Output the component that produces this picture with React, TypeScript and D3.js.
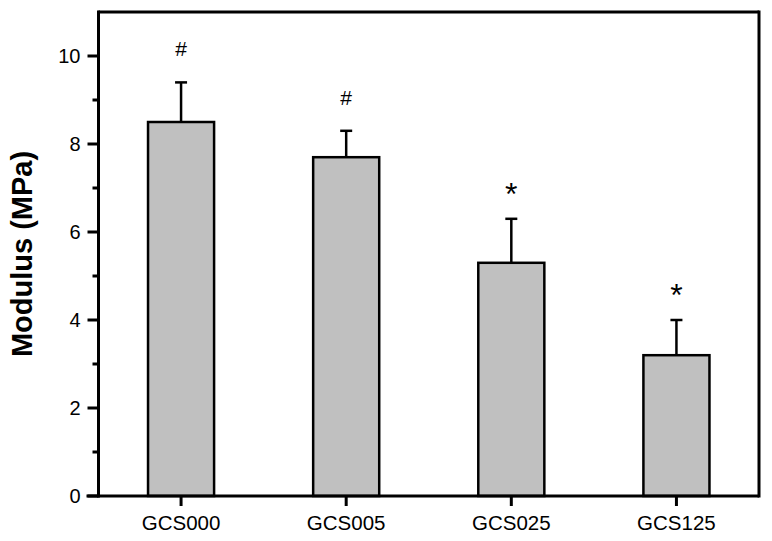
import React from "react";
import * as d3 from "d3";

const categories = ["GCS000", "GCS005", "GCS025", "GCS125"];
const values = [8.5, 7.7, 5.3, 3.2];
const errors = [0.9, 0.6, 1.0, 0.8];
const marks = ["#", "#", "*", "*"];
const yTicks = [0, 2, 4, 6, 8, 10];
const yMinorTicks = [1, 3, 5, 7, 9];

const W = 772;
const H = 541;
const L = 98.5;
const R = 759;
const T = 12;
const B = 496;

export default function App() {
  const x = d3.scaleBand<string>().domain(categories).range([L, R]).padding(0);
  const y = d3.scaleLinear().domain([0, 11]).range([B, T]);
  const barW = x.bandwidth() * 0.4;
  const font = "'Liberation Sans', Arial, sans-serif";

  return (
    <svg
      width={W}
      height={H}
      style={{ position: "absolute", left: 0, top: 0, background: "#fff" }}
      fontFamily={font}
    >
      {categories.map((c, i) => {
        const cx = x(c)! + x.bandwidth() / 2;
        const top = y(values[i]);
        const errTop = y(values[i] + errors[i]);
        const isHash = marks[i] === "#";
        return (
          <g key={c}>
            <line x1={cx} x2={cx} y1={top} y2={errTop} stroke="#000" strokeWidth={2.5} />
            <line x1={cx - 6} x2={cx + 6} y1={errTop} y2={errTop} stroke="#000" strokeWidth={2.5} />
            <rect
              x={cx - barW / 2}
              y={top}
              width={barW}
              height={B - top}
              fill="#c0c0c0"
              stroke="#000"
              strokeWidth={2.5}
            />
            <text
              x={cx}
              y={isHash ? errTop - 26 : errTop - 14}
              textAnchor="middle"
              fontSize={isHash ? 21 : 32}
              fill="#000"
            >
              {marks[i]}
            </text>
            <line x1={cx} x2={cx} y1={B} y2={B + 10} stroke="#000" strokeWidth={3} />
            <text x={cx} y={530} textAnchor="middle" fontSize={20.5} fill="#000">
              {c}
            </text>
          </g>
        );
      })}

      <line x1={L} x2={R} y1={T} y2={T} stroke="#000" strokeWidth={3} />
      <line x1={R} x2={R} y1={T - 1.5} y2={B + 1.5} stroke="#000" strokeWidth={3} />
      <line x1={L} x2={L} y1={T - 1.5} y2={B + 1.5} stroke="#000" strokeWidth={3} />
      <line x1={L - 12} x2={R} y1={B} y2={B} stroke="#000" strokeWidth={3} />

      {yTicks.map((t) => (
        <g key={t}>
          <line x1={L - 11} x2={L} y1={y(t)} y2={y(t)} stroke="#000" strokeWidth={3} />
          <text x={L - 18} y={y(t) + 7} textAnchor="end" fontSize={20} fill="#000">
            {t}
          </text>
        </g>
      ))}
      {yMinorTicks.map((t) => (
        <line key={t} x1={L - 6} x2={L} y1={y(t)} y2={y(t)} stroke="#000" strokeWidth={3} />
      ))}

      <text
        transform={`translate(32, ${(T + B) / 2}) rotate(-90)`}
        textAnchor="middle"
        fontSize={29}
        fontWeight="bold"
        fill="#000"
      >
        Modulus (MPa)
      </text>
    </svg>
  );
}
